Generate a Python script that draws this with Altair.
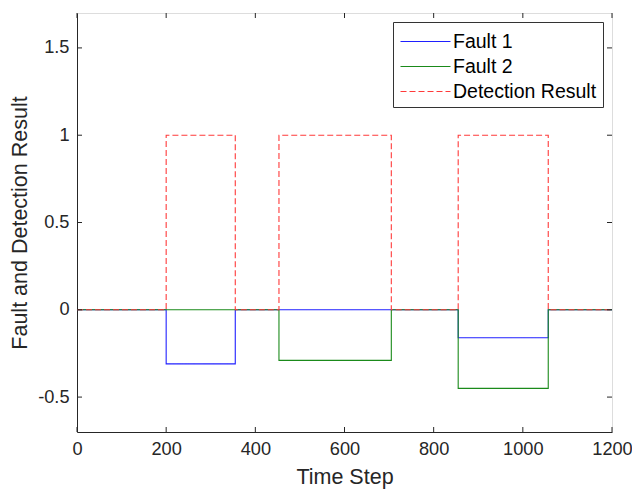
import altair as alt
import pandas as pd

# Fault segments (start, end, level)
fault1_start = [200, 855]
fault1_end = [355, 1057]
fault1_level = [-0.31, -0.16]

fault2_start = [453, 855]
fault2_end = [705, 1057]
fault2_level = [-0.29, -0.45]

det_start = [200, 453, 855]
det_end = [355, 705, 1057]
det_level = [1, 1, 1]

x_min, x_max = 0, 1200
x_ticks = [0, 200, 400, 600, 800, 1000, 1200]
y_ticks = [-0.5, 0, 0.5, 1, 1.5]
series_names = ["Fault 1", "Fault 2", "Detection Result"]


def step_points(starts, ends, levels, name):
    rows = [(x_min, 0.0)]
    for s, e, v in zip(starts, ends, levels):
        rows += [(s, 0.0), (s, v), (e, v), (e, 0.0)]
    rows.append((x_max, 0.0))
    return [{"t": t, "v": v, "series": name, "i": k} for k, (t, v) in enumerate(rows)]


rows = (step_points(fault1_start, fault1_end, fault1_level, "Fault 1")
        + step_points(fault2_start, fault2_end, fault2_level, "Fault 2")
        + step_points(det_start, det_end, det_level, "Detection Result"))
df = pd.DataFrame(rows)

W, H = 535, 419
FONT = "Liberation Sans"
TXT = "#262626"

xs = alt.Scale(domain=[0, 1200], nice=False, zero=False)
ys = alt.Scale(domain=[-0.7, 1.7], nice=False, zero=False)

legend_kw = dict(
    title=None, orient="none", legendX=316, legendY=9,
    symbolType="M-2,0H2", symbolSize=625, symbolStrokeWidth=1.2,
    symbolOffset=13,
    labelFont=FONT, labelFontSize=19.5, labelColor="#000000", labelOffset=14,
    rowPadding=2, padding=6, strokeColor="#333333", fillColor="#ffffff",
    labelLimit=300,
)

color = alt.Color(
    "series:N",
    scale=alt.Scale(domain=series_names, range=["#1f1fff", "#1a8a1a", "#ff3a3a"]),
    legend=alt.Legend(**legend_kw),
)
dash = alt.StrokeDash(
    "series:N",
    scale=alt.Scale(domain=series_names, range=[[1, 0], [1, 0], [6, 3]]),
    legend=alt.Legend(**legend_kw),
)

base = alt.Chart(df)


def series_layer(name):
    return base.transform_filter(alt.datum.series == name).mark_line(
        strokeWidth=1.1, clip=True
    ).encode(
        x=alt.X("t:Q", scale=xs, axis=alt.Axis(
            values=x_ticks, title="Time Step", grid=False, ticks=False,
            labelExpr="'' + datum.value",
            labelFont=FONT, labelFontSize=18.2, labelColor=TXT,
            titleFont=FONT, titleFontSize=21.5, titleFontWeight="normal",
            titleColor=TXT, labelPadding=8, titlePadding=9,
            domainColor=TXT, labelFlush=False)),
        y=alt.Y("v:Q", scale=ys, axis=alt.Axis(
            values=y_ticks, title="Fault and Detection Result", grid=False,
            ticks=False, labelExpr="'' + datum.value",
            labelFont=FONT, labelFontSize=18.2, labelColor=TXT,
            titleFont=FONT, titleFontSize=21.5, titleFontWeight="normal",
            titleColor=TXT, labelPadding=8, titlePadding=6,
            domainColor=TXT)),
        color=color,
        strokeDash=dash,
        order="i:Q",
    )


xt = pd.DataFrame({"tick": x_ticks})
yt = pd.DataFrame({"tick": y_ticks})
TL = 5
xb = alt.Chart(xt).mark_rule(color=TXT, strokeWidth=1).encode(
    x=alt.X("tick:Q", scale=xs), y=alt.value(H), y2=alt.value(H - TL))
xtop = alt.Chart(xt).mark_rule(color=TXT, strokeWidth=1).encode(
    x=alt.X("tick:Q", scale=xs), y=alt.value(0), y2=alt.value(TL))
yl = alt.Chart(yt).mark_rule(color=TXT, strokeWidth=1).encode(
    y=alt.Y("tick:Q", scale=ys), x=alt.value(0), x2=alt.value(TL))
yr = alt.Chart(yt).mark_rule(color=TXT, strokeWidth=1).encode(
    y=alt.Y("tick:Q", scale=ys), x=alt.value(W - TL), x2=alt.value(W))

chart = alt.layer(
    series_layer("Fault 1"), series_layer("Fault 2"), series_layer("Detection Result"),
    xb, xtop, yl, yr,
).properties(
    width=W, height=H,
    padding={"left": 69, "top": 5, "right": 20, "bottom": 57},
    autosize=alt.AutoSizeParams(type="none"),
).configure_view(stroke=TXT, strokeWidth=1).configure(background="#ffffff")

chart.save("out.html", embed_options={"renderer": "svg", "actions": False})
